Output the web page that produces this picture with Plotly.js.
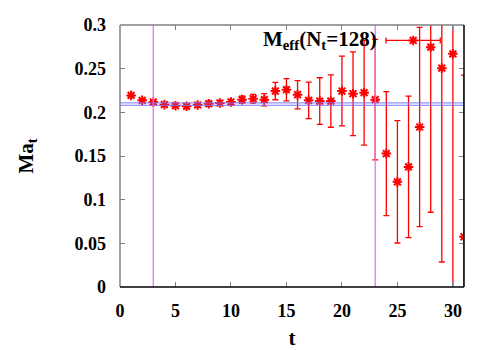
<!DOCTYPE html>
<html>
<head>
<meta charset="utf-8">
<script src="https://cdn.plot.ly/plotly-3.0.1.min.js"></script>
<style>
  html, body { margin:0; padding:0; background:#fff; }
  #meff { width:500px; height:350px; }
</style>
</head>
<body>
<div id="meff"></div>
<script>

/* ==========================================
   DATA
========================================== */

const tValues = [1,2,3,4,5,6,7,8,9,10,11,12,13,14,15,16,17,18,19,20,21,22,23,24,25,26,27,28,29,30,31];

const meffValues = [
    0.2194, 0.2137, 0.2118, 0.2088, 0.2076, 0.2069, 0.2084, 0.2099, 0.2107, 0.2118,
    0.2145, 0.2156, 0.2145, 0.2244, 0.2259, 0.2202, 0.2137, 0.2129, 0.2129, 0.2244,
    0.2213, 0.2225, 0.2145, 0.1528, 0.1204, 0.1375, 0.1832, 0.2746, 0.2506, 0.2670,
    0.0575
];

const meffErrors = [
    0.002, 0.002, 0.002, 0.002, 0.002, 0.002, 0.002, 0.003, 0.003, 0.003,
    0.004, 0.005, 0.007, 0.010, 0.0127, 0.0162, 0.021, 0.0267, 0.030, 0.040,
    0.048, 0.060, 0.069, 0.071, 0.070, 0.081, 0.114, 0.189, 0.222, 0.300,
    0.185
];

// fit window (vertical lines) and plateau band (horizontal lines)
const fitRange = [3, 23];
const plateauBand = [0.2081, 0.2108];

// legend key: centre and half width in data units
const keyX = [26.42];
const keyY = [0.2823];
const keyHalfWidth = [2.44];


/* ==========================================
   DRAW
========================================== */

function drawMeff(){

    const font = "'Liberation Serif', 'Times New Roman', serif";

    const markerStyle = {
        symbol:"asterisk-open",
        size:8,
        color:"#ff0000",
        line:{ color:"#ff0000", width:2 }
    };

    const traces = [
        {
            type:"scatter",
            mode:"markers",
            x:tValues,
            y:meffValues,
            error_y:{
                type:"data",
                array:meffErrors,
                visible:true,
                color:"#ff0000",
                thickness:1.3,
                width:3
            },
            marker:markerStyle,
            hoverinfo:"x+y"
        },
        {
            type:"scatter",
            mode:"markers",
            x:keyX,
            y:keyY,
            error_x:{
                type:"data",
                array:keyHalfWidth,
                visible:true,
                color:"#ff0000",
                thickness:1.3,
                width:3
            },
            marker:markerStyle,
            hoverinfo:"skip"
        }
    ];

    const shapes = [];

    fitRange.forEach((t,i)=>{
        shapes.push({
            type:"line", layer:"above",
            xref:"x", yref:"paper",
            x0:t, x1:t, y0:0, y1:1,
            line:{ color: i === 0 ? "#ff66ff" : "#e77ae7", width:1.3 }
        });
    });

    plateauBand.forEach(v=>{
        shapes.push({
            type:"line", layer:"above",
            xref:"paper", yref:"y",
            x0:0, x1:1, y0:v, y1:v,
            line:{ color:"#7777ff", width:1 }
        });
    });

    // gnuplot style border: grey top/left, black bottom/right
    shapes.push(
        { type:"line", layer:"above", xref:"paper", yref:"paper", x0:0, x1:1, y0:1, y1:1, line:{ color:"#808080", width:1.5 } },
        { type:"line", layer:"above", xref:"paper", yref:"paper", x0:0, x1:0, y0:0, y1:1, line:{ color:"#808080", width:1.5 } },
        { type:"line", layer:"above", xref:"paper", yref:"paper", x0:0, x1:1, y0:0, y1:0, line:{ color:"#000000", width:1.5 } },
        { type:"line", layer:"above", xref:"paper", yref:"paper", x0:1, x1:1, y0:0, y1:1, line:{ color:"#000000", width:1.5 } }
    );

    const layout = {
        width:500,
        height:350,
        margin:{ l:120, r:36, t:25, b:63 },
        paper_bgcolor:"#ffffff",
        plot_bgcolor:"#ffffff",
        showlegend:false,
        font:{ family:font, size:18, color:"#000000", weight:"bold" },
        xaxis:{
            range:[0,31],
            dtick:5,
            ticks:"inside",
            ticklen:5,
            tickcolor:"#808080",
            mirror:"ticks",
            showline:false,
            showgrid:false,
            zeroline:false,
            ticklabelstandoff:11,
            tickfont:{ family:font, size:18, weight:"bold", color:"#000000" },
            title:{ text:"t", font:{ family:font, size:21, weight:"bold" }, standoff:13 }
        },
        yaxis:{
            range:[0,0.3],
            dtick:0.05,
            ticks:"inside",
            ticklen:5,
            tickcolor:"#808080",
            mirror:"ticks",
            showline:false,
            showgrid:false,
            zeroline:false,
            ticklabelstandoff:13,
            tickfont:{ family:font, size:18, weight:"bold", color:"#000000" },
            title:{ text:"Ma<sub>t</sub>", font:{ family:font, size:21, weight:"bold" }, standoff:35 }
        },
        shapes:shapes,
        annotations:[
            {
                xref:"x", yref:"y",
                x:23.3, y:keyY[0],
                xanchor:"right", yanchor:"middle",
                showarrow:false,
                text:"M<sub>eff</sub>(N<sub>t</sub>=128)",
                font:{ family:font, size:21, weight:"bold", color:"#000000" }
            }
        ]
    };

    Plotly.newPlot("meff", traces, layout, { displayModeBar:false, staticPlot:true });

}

drawMeff();

</script>
</body>
</html>
